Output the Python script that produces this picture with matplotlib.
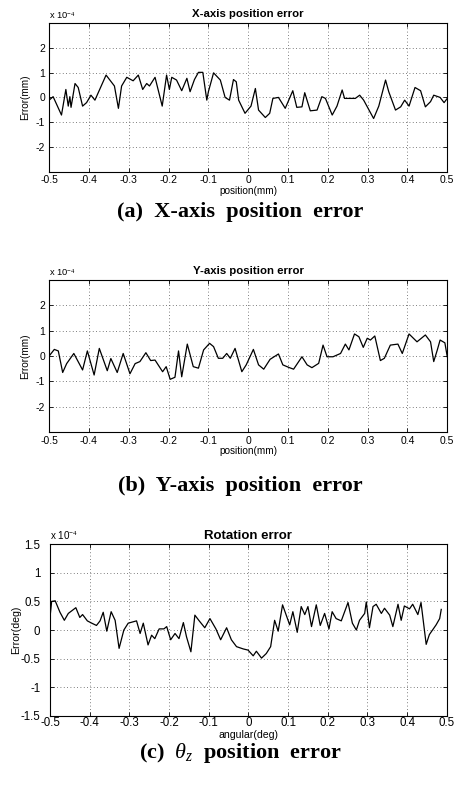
import matplotlib
matplotlib.use('Agg')
import matplotlib.pyplot as plt

plt.rcParams['font.family'] = ['Liberation Sans', 'DejaVu Sans']
plt.rcParams['mathtext.fontset'] = 'custom'
plt.rcParams['mathtext.rm'] = 'Liberation Serif'
plt.rcParams['mathtext.it'] = 'Liberation Serif:italic'

# X-axis position error (values in 1e-4 mm)
x_pos = [-0.500, -0.490, -0.486, -0.469, -0.458, -0.452, -0.448, -0.445, -0.435, -0.427,
         -0.416, -0.406, -0.395, -0.385, -0.357, -0.336, -0.326, -0.318, -0.305, -0.289,
         -0.276, -0.265, -0.255, -0.248, -0.234, -0.216, -0.205, -0.198, -0.192, -0.180,
         -0.167, -0.154, -0.146, -0.135, -0.125, -0.114, -0.104, -0.100, -0.087, -0.070,
         -0.058, -0.047, -0.037, -0.030, -0.024, -0.008, 0.007, 0.018, 0.026, 0.043,
         0.054, 0.062, 0.076, 0.093, 0.112, 0.122, 0.135, 0.142, 0.156, 0.173,
         0.185, 0.194, 0.211, 0.223, 0.236, 0.242, 0.257, 0.269, 0.280, 0.290,
         0.315, 0.328, 0.345, 0.353, 0.370, 0.383, 0.393, 0.404, 0.419, 0.433,
         0.445, 0.458, 0.466, 0.482, 0.492, 0.500]
x_err = [-0.11, 0.03, -0.11, -0.71, 0.32, -0.35, 0.03, -0.40, 0.56, 0.40,
         -0.35, -0.21, 0.09, -0.11, 0.90, 0.46, -0.44, 0.46, 0.81, 0.67,
         0.90, 0.32, 0.56, 0.46, 0.81, -0.35, 0.90, 0.32, 0.81, 0.70,
         0.27, 0.77, 0.23, 0.72, 1.01, 1.01, -0.11, 0.23, 0.99, 0.70,
         0.00, -0.11, 0.72, 0.63, -0.11, -0.64, -0.35, 0.36, -0.51, -0.81,
         -0.64, -0.04, 0.00, -0.44, 0.27, -0.40, -0.38, 0.19, -0.54, -0.51,
         0.03, -0.04, -0.71, -0.35, 0.30, -0.04, -0.04, -0.04, 0.09, -0.11,
         -0.85, -0.35, 0.70, 0.23, -0.51, -0.38, -0.11, -0.35, 0.40, 0.27,
         -0.38, -0.17, 0.09, 0.00, -0.21, -0.04]

# Y-axis position error (values in 1e-4 mm)
y_pos = [-0.500, -0.487, -0.477, -0.466, -0.456, -0.438, -0.416, -0.404, -0.387, -0.374,
         -0.354, -0.345, -0.329, -0.314, -0.297, -0.284, -0.272, -0.257, -0.245, -0.234,
         -0.215, -0.206, -0.196, -0.184, -0.175, -0.167, -0.153, -0.138, -0.125, -0.112,
         -0.097, -0.087, -0.075, -0.064, -0.054, -0.045, -0.033, -0.016, -0.005, 0.013,
         0.026, 0.039, 0.055, 0.076, 0.087, 0.102, 0.114, 0.135, 0.148, 0.160,
         0.177, 0.188, 0.198, 0.213, 0.232, 0.244, 0.253, 0.267, 0.278, 0.289,
         0.299, 0.307, 0.318, 0.332, 0.342, 0.357, 0.376, 0.387, 0.404, 0.424,
         0.445, 0.458, 0.466, 0.475, 0.482, 0.494, 0.500]
y_err = [0.00, 0.26, 0.20, -0.65, -0.30, 0.10, -0.55, 0.20, -0.75, 0.30,
         -0.58, -0.10, -0.65, 0.10, -0.70, -0.30, -0.22, 0.13, -0.18, -0.16,
         -0.62, -0.42, -0.92, -0.84, 0.20, -0.82, 0.47, -0.42, -0.48, 0.24,
         0.50, 0.37, -0.09, -0.09, 0.10, -0.09, 0.30, -0.62, -0.35, 0.26,
         -0.35, -0.52, -0.13, 0.08, -0.35, -0.45, -0.52, -0.03, -0.35, -0.46,
         -0.29, 0.43, -0.03, -0.03, 0.10, 0.47, 0.24, 0.87, 0.76, 0.34,
         0.70, 0.63, 0.79, -0.18, -0.09, 0.43, 0.47, 0.10, 0.87, 0.56,
         0.83, 0.56, -0.22, 0.24, 0.63, 0.52, -0.03]

# Rotation error (values in 1e-4 deg)
r_pos = [-0.500, -0.496, -0.487, -0.475, -0.464, -0.454, -0.435, -0.425, -0.418, -0.406,
         -0.395, -0.383, -0.374, -0.366, -0.357, -0.346, -0.336, -0.326, -0.314, -0.303,
         -0.282, -0.273, -0.265, -0.253, -0.244, -0.236, -0.225, -0.213, -0.206, -0.196,
         -0.185, -0.175, -0.164, -0.156, -0.145, -0.135, -0.124, -0.110, -0.097, -0.082,
         -0.070, -0.055, -0.043, -0.030, -0.013, -0.001, 0.012, 0.020, 0.033, 0.045,
         0.056, 0.066, 0.075, 0.086, 0.104, 0.112, 0.123, 0.133, 0.142, 0.150,
         0.159, 0.171, 0.181, 0.192, 0.203, 0.211, 0.221, 0.234, 0.251, 0.262,
         0.272, 0.280, 0.293, 0.297, 0.305, 0.314, 0.322, 0.335, 0.343, 0.356,
         0.364, 0.377, 0.385, 0.393, 0.406, 0.414, 0.427, 0.435, 0.448, 0.456,
         0.473, 0.482, 0.486]
r_err = [0.23, 0.50, 0.51, 0.31, 0.17, 0.29, 0.39, 0.22, 0.27, 0.16,
         0.12, 0.08, 0.16, 0.31, -0.02, 0.32, 0.17, -0.32, 0.00, 0.12,
         0.16, -0.06, 0.12, -0.26, -0.09, -0.15, 0.02, 0.02, 0.06, -0.17,
         -0.06, -0.15, 0.13, -0.12, -0.38, 0.26, 0.16, 0.04, 0.20, 0.02,
         -0.17, 0.04, -0.17, -0.29, -0.33, -0.35, -0.45, -0.37, -0.49, -0.41,
         -0.29, 0.17, -0.02, 0.44, 0.09, 0.32, -0.04, 0.41, 0.27, 0.41,
         0.06, 0.44, 0.08, 0.29, 0.02, 0.32, 0.20, 0.16, 0.48, 0.12,
         0.00, 0.17, 0.29, 0.49, 0.04, 0.41, 0.45, 0.29, 0.38, 0.26,
         0.06, 0.45, 0.17, 0.42, 0.37, 0.45, 0.27, 0.48, -0.25, -0.08,
         0.09, 0.20, 0.36]

x_ticks = [-0.5, -0.4, -0.3, -0.2, -0.1, 0, 0.1, 0.2, 0.3, 0.4, 0.5]
x_ticklabels = ['-0.5', '-0.4', '-0.3', '-0.2', '-0.1', '0', '0.1', '0.2', '0.3', '0.4', '0.5']

panels = [
    dict(x=x_pos, y=x_err, rect=[0.108, 0.783, 0.875, 0.188], ylim=(-3, 3),
         yticks=[-2, -1, 0, 1, 2], yticklabels=['-2', '-1', '0', '1', '2'],
         title='X-axis position error', xlabel='position(mm)', ylabel='Error(mm)',
         caption='(a)  X-axis  position  error', cap_y=212,
         tick_fs=7.5, title_fs=8.2, label_fs=7.2, ypad=3, xpad=2.5, ylab_x=-0.049),
    dict(x=y_pos, y=y_err, rect=[0.108, 0.4545, 0.875, 0.192], ylim=(-3, 3),
         yticks=[-2, -1, 0, 1, 2], yticklabels=['-2', '-1', '0', '1', '2'],
         title='Y-axis position error', xlabel='position(mm)', ylabel='Error(mm)',
         caption='(b)  Y-axis  position  error', cap_y=486,
         tick_fs=7.5, title_fs=8.2, label_fs=7.2, ypad=3, xpad=2.5, ylab_x=-0.049),
    dict(x=r_pos, y=r_err, rect=[0.110, 0.096, 0.872, 0.217], ylim=(-1.5, 1.5),
         yticks=[-1.5, -1, -0.5, 0, 0.5, 1, 1.5],
         yticklabels=['-1.5', '-1', '-0.5', '0', '0.5', '1', '1.5'],
         title='Rotation error', xlabel='angular(deg)', ylabel='Error(deg)',
         caption=r'(c)  $\theta_z$  position  error', cap_y=753,
         tick_fs=8.3, title_fs=9.5, label_fs=7.6, ypad=7, xpad=1.0, ylab_x=-0.074),
]

fig = plt.figure(figsize=(4.55, 7.92), dpi=100)

for p in panels:
    ax = fig.add_axes(p['rect'])
    ax.plot(p['x'], p['y'], color='black', linewidth=0.9)
    ax.set_xlim(-0.5, 0.5)
    ax.set_ylim(*p['ylim'])
    ax.set_xticks(x_ticks)
    ax.set_xticklabels(x_ticklabels, fontsize=p['tick_fs'])
    ax.set_yticks(p['yticks'])
    ax.set_yticklabels(p['yticklabels'], fontsize=p['tick_fs'])
    ax.tick_params(direction='in', length=3, width=0.6, top=True, right=True)
    ax.tick_params(axis='x', pad=p['xpad'])
    ax.tick_params(axis='y', pad=p['ypad'])
    ax.grid(True, color='#555555', linestyle=(0, (1, 3)), linewidth=0.6)
    for s in ax.spines.values():
        s.set_linewidth(0.8)
    ax.set_title(p['title'], fontsize=p['title_fs'], fontweight='bold', pad=4)
    ax.set_xlabel(p['xlabel'], fontsize=p['label_fs'], labelpad=0.5)
    ax.set_ylabel(p['ylabel'], fontsize=p['label_fs'])
    ax.yaxis.set_label_coords(p['ylab_x'], 0.5)
    ax.text(0.0, 1.01, r'x 10$^{-4}$', transform=ax.transAxes, fontsize=p['label_fs'] - 0.5,
            ha='left', va='bottom')
    fig.text(0.528, 1 - p['cap_y'] / 792, p['caption'], ha='center', va='center',
             fontsize=16, fontweight='bold', family='Liberation Serif')

fig.savefig('out.png', dpi=100)
